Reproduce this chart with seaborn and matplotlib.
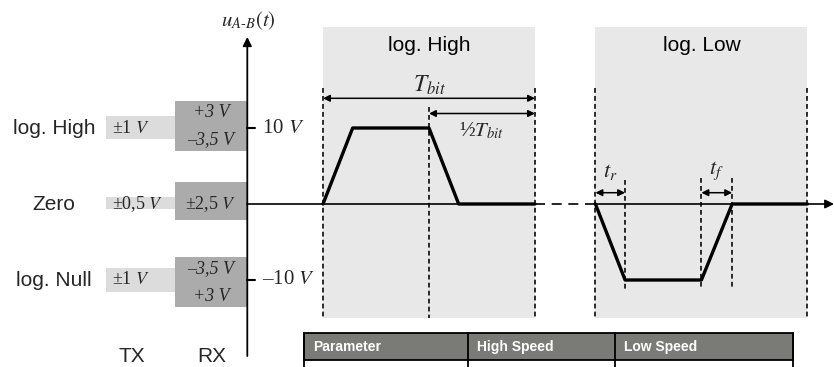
import matplotlib
matplotlib.use("Agg")
import matplotlib.pyplot as plt
import seaborn as sns
import pandas as pd
from matplotlib.patches import Rectangle

# ---------------- data ----------------
levels = ["log. High", "Zero", "log. Null"]
level_volts = [10, 0, -10]
tx_labels = ["±1 $V$", "±0,5 $V$", "±1 $V$"]
tx_low = [8.6, -0.6, -11.55]
tx_high = [11.6, 0.95, -8.4]
rx_low = [7.0, -2.1, -13.6]
rx_high = [13.55, 2.9, -7.0]
rx_top_labels = ["+3 V", "±2,5 $V$", "–3,5 V"]
rx_bottom_labels = ["–3,5 V", None, "+3 V"]

tick_volts = [10, -10]
tick_labels = ["10 $V$", "–10 $V$"]

bit_names = ["log. High", "log. Low"]
bit_starts = [0.0, 1.285]
t_bit = 1.0

t_high = [0.0, 0.14, 0.5, 0.64, 1.0]
u_high = [0, 10, 10, 0, 0]
t_low = [1.285, 1.425, 1.785, 1.93, 2.285]
u_low = [0, -10, -10, 0, 0]

table_cols = ["Parameter", "High Speed", "Low Speed"]

# ---------------- layout helpers (pixel -> data) ----------------
W, H = 834, 367
PX_T0, PX_PER_T = 323.0, 212.0
PY_V0, PY_PER_V = 204.0, 7.6


def X(px):
    return (px - PX_T0) / PX_PER_T


def Y(py):
    return (PY_V0 - py) / PY_PER_V


sns.set_theme(style="white")
plt.rcParams["font.family"] = ["Liberation Sans", "DejaVu Sans"]
plt.rcParams["mathtext.fontset"] = "stix"

fig = plt.figure(figsize=(W / 100, H / 100), dpi=100)
ax = fig.add_axes([0, 0, 1, 1])
ax.set_xlim(X(0), X(W))
ax.set_ylim(Y(H), Y(0))
ax.axis("off")

SERIF = ["Liberation Serif", "DejaVu Serif"]
SANS = ["Liberation Sans", "DejaVu Sans"]

# bit windows
for name, s in zip(bit_names, bit_starts):
    ax.add_patch(Rectangle((s, Y(318)), t_bit, Y(27) - Y(318),
                           facecolor="#e8e8e8", edgecolor="none", zorder=0))
    ax.text(s + t_bit / 2, Y(45), name, ha="center", va="center",
            fontsize=15, family=SANS, color="black")

# level bars (TX light, RX dark)
tx_x0, tx_x1 = X(106), X(175)
rx_x0, rx_x1 = X(175), X(247)
ax.bar([(tx_x0 + tx_x1) / 2] * 3, [h - l for h, l in zip(tx_high, tx_low)],
       bottom=tx_low, width=tx_x1 - tx_x0, color="#dcdcdc", linewidth=0, zorder=1)
ax.bar([(rx_x0 + rx_x1) / 2] * 3, [h - l for h, l in zip(rx_high, rx_low)],
       bottom=rx_low, width=rx_x1 - rx_x0, color="#ababab", linewidth=0, zorder=1)

for name, v, txl, rt, rb, hi, lo in zip(levels, level_volts, tx_labels,
                                         rx_top_labels, rx_bottom_labels,
                                         rx_high, rx_low):
    ax.text(X(54), v, name, ha="center", va="center", fontsize=15, family=SANS)
    ax.text(X(112), v, txl, ha="left", va="center", fontsize=13, family=SERIF)
    rxc = (rx_x0 + rx_x1) / 2
    if rb is None:
        ax.text(rxc, v, rt, ha="center", va="center", fontsize=13, family=SERIF)
    else:
        ax.text(rxc, hi - 11 / PY_PER_V, rt, ha="center", va="center",
                fontsize=13, family=SERIF, style="italic")
        ax.text(rxc, lo + 11 / PY_PER_V, rb, ha="center", va="center",
                fontsize=13, family=SERIF, style="italic")

ax.text(X(131.7), Y(356.7), "TX", ha="center", va="center", fontsize=15, family=SANS)
ax.text(X(211.3), Y(356.7), "RX", ha="center", va="center", fontsize=15, family=SANS)

# y axis
ax.annotate("", xy=(X(247.3), Y(37)), xytext=(X(247.3), Y(356)),
            arrowprops=dict(arrowstyle="-|>", lw=1.3, color="black",
                            mutation_scale=13, shrinkA=0, shrinkB=0), zorder=5)
ax.text(X(248), Y(21), r"$u_{A\text{-}B}(t)$", ha="center", va="center",
        fontsize=15)
for v, lab in zip(tick_volts, tick_labels):
    ax.plot([X(247), X(255)], [v, v], color="black", lw=1.5, zorder=5)
    ax.text(X(262), v, lab, ha="left", va="center", fontsize=15, family=SERIF)

# x axis
ax.plot([X(247), X(535)], [0, 0], color="black", lw=1.2, zorder=3)
ax.plot([X(535), X(596)], [0, 0], color="black", lw=1.2, zorder=3,
        linestyle=(0, (6, 4)))
ax.annotate("", xy=(X(834), 0), xytext=(X(596), 0),
            arrowprops=dict(arrowstyle="-|>", lw=1.2, color="black",
                            mutation_scale=13, shrinkA=0, shrinkB=0), zorder=5)

# dashed guide lines
dash = (0, (3, 2))
DLW = 1.15
for s in bit_starts:
    for tt in (s, s + t_bit):
        ax.plot([tt, tt], [Y(88), Y(318)], color="black", lw=DLW, linestyle=dash, zorder=2)
ax.plot([t_high[2], t_high[2]], [Y(107), Y(318)], color="black", lw=DLW,
        linestyle=dash, zorder=2)
for tt, top in ((t_low[1], 180), (t_low[2], 178), (t_low[3], 178)):
    ax.plot([tt, tt], [Y(top), Y(289)], color="black", lw=DLW, linestyle=dash, zorder=2)

# dimension arrows
arr = dict(arrowstyle="<|-|>", lw=1.1, color="black", mutation_scale=10,
           shrinkA=0, shrinkB=0)
ax.annotate("", xy=(bit_starts[0] + t_bit, Y(98.3)), xytext=(bit_starts[0], Y(98.3)),
            arrowprops=arr)
ax.text(bit_starts[0] + t_bit / 2, Y(85), r"$T_{bit}$", ha="center", va="center",
        fontsize=17)
ax.annotate("", xy=(bit_starts[0] + t_bit, Y(113.5)), xytext=(t_high[2], Y(113.5)),
            arrowprops=arr)
ax.text(X(481), Y(131), "½$T_{bit}$", ha="center", va="center", fontsize=15,
        family=SERIF)
ax.annotate("", xy=(t_low[1], Y(192.7)), xytext=(t_low[0], Y(192.7)), arrowprops=arr)
ax.text((t_low[0] + t_low[1]) / 2, Y(171), r"$t_r$", ha="center", va="center", fontsize=16)
ax.annotate("", xy=(t_low[3], Y(192.7)), xytext=(t_low[2], Y(192.7)), arrowprops=arr)
ax.text((t_low[2] + t_low[3]) / 2, Y(171), r"$t_f$", ha="center", va="center", fontsize=16)

# waveform
df = pd.DataFrame({
    "t": t_high + t_low,
    "u": u_high + u_low,
    "bit": [0] * len(t_high) + [1] * len(t_low),
})
sns.lineplot(data=df, x="t", y="u", units="bit", estimator=None, sort=False,
             color="black", lw=2.4, ax=ax, zorder=6, legend=False)
ax.set_xlim(X(0), X(W))
ax.set_ylim(Y(H), Y(0))
ax.axis("off")

# table header
tx0, tx1 = X(304), X(793)
col_edges = [X(304), X(468.3), X(615), X(793)]
ax.add_patch(Rectangle((tx0, Y(360)), tx1 - tx0, Y(333.3) - Y(360),
                       facecolor="#7a7a77", edgecolor="black", lw=1.3, zorder=4))
for xe in col_edges:
    ax.plot([xe, xe], [Y(333.3), Y(370)], color="black", lw=1.3, zorder=5)
for name, xe in zip(table_cols, col_edges[:-1]):
    ax.text(xe + X(313) - X(304), Y(346.7), name, ha="left", va="center",
            fontsize=10, fontweight="bold", color="white", family=SANS, zorder=6)

fig.savefig("out.png", dpi=100)
